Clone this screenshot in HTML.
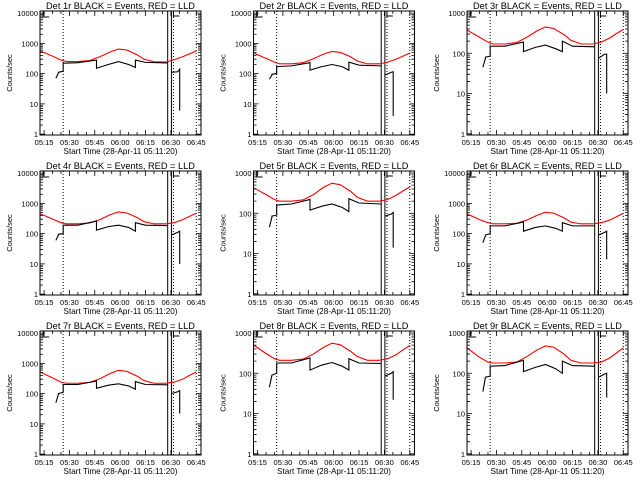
<!DOCTYPE html>
<html><head><meta charset="utf-8"><style>
html,body{margin:0;padding:0;background:#fff;}
svg{display:block;font-family:"Liberation Sans",sans-serif;}
</style></head><body>
<svg id="chart" width="640" height="480" viewBox="0 0 640 480" xmlns="http://www.w3.org/2000/svg">
<rect width="640" height="480" fill="#fff"/>
</svg>
<script>
const detNames = ["1r","2r","3r","4r","5r","6r","7r","8r","9r"];
const yMaxDecades = [4,4,3,4,3,4,4,3,3];
const redTimes = [12.6,15,20,25,28,35,42,48,54,59,64,70,74,80,87,92,97,101,105];
const red1 = [560,500,380,280,250,250,270,360,520,650,600,420,300,245,240,290,360,450,560];
const red2 = [480,420,320,240,210,210,230,310,440,540,500,360,260,210,210,240,300,380,480];
const red3 = [380,330,250,190,170,170,185,250,360,450,410,290,210,170,170,190,240,310,390];
const red4 = [450,400,300,230,210,210,225,290,420,520,480,340,250,210,210,230,290,370,470];
const red5 = [430,380,290,220,200,200,215,290,440,560,510,350,250,200,200,220,280,360,450];
const red6 = [450,390,290,230,210,210,220,280,400,510,470,330,240,210,210,230,280,360,470];
const red7 = [520,450,330,240,220,220,235,310,460,590,540,380,270,220,220,240,300,400,520];
const red8 = [500,430,310,230,210,210,225,300,440,560,510,350,260,210,210,230,290,380,490];
const red9 = [430,360,250,190,180,180,190,260,380,480,440,300,210,180,180,190,240,320,430];
const blackTimesA = [22,23.5,23.5,26.3,26.3,35,46,46,53,59,65,69,69,75,88];
const black1 = [70,105,110,120,220,230,280,150,200,250,200,160,280,235,225];
const black2 = [65,90,95,100,170,180,230,130,170,200,170,130,240,190,180];
const black3 = [45,75,80,85,150,150,190,110,140,160,130,110,200,150,145];
const black4 = [60,90,95,100,190,190,260,130,170,190,160,120,230,190,185];
const black5 = [45,80,85,90,160,170,220,120,150,170,140,110,230,180,170];
const black6 = [50,85,90,100,180,180,240,120,160,180,150,120,230,180,180];
const black7 = [50,95,100,110,200,200,260,150,190,210,180,140,250,200,195];
const black8 = [45,90,90,100,180,180,240,120,160,185,150,120,230,180,175];
const black9 = [35,80,80,85,150,155,210,110,140,165,130,100,200,155,150];
const blackTimesB = [90.3,94,95.2,95.2];
const blackB1 = [110,115,140,6];
const blackB2 = [90,110,115,4];
const blackB3 = [75,95,95,10];
const blackB4 = [90,110,120,10];
const blackB5 = [85,95,105,14];
const blackB6 = [90,110,120,14];
const blackB7 = [100,115,125,22];
const blackB8 = [85,100,110,22];
const blackB9 = [80,95,100,25];
const xTickLabels = ["05:15","05:30","05:45","06:00","06:15","06:30","06:45"];
const xTickTimes = [15,30,45,60,75,90,105];
const dottedTimes = [26.3,91.5,105];
const solidTimes = [88.1,90.3];
const reds=[red1,red2,red3,red4,red5,red6,red7,red8,red9];
const blacks=[black1,black2,black3,black4,black5,black6,black7,black8,black9];
const blacksB=[blackB1,blackB2,blackB3,blackB4,blackB5,blackB6,blackB7,blackB8,blackB9];

const svg=document.getElementById('chart');
const NS='http://www.w3.org/2000/svg';
function mk(tag,attrs,parent){const e=document.createElementNS(NS,tag);for(const k in attrs)e.setAttribute(k,attrs[k]);(parent||svg).appendChild(e);return e;}
const T0=12.6,T1=107.8;
for(let p=0;p<9;p++){
  const col=p%3,row=Math.floor(p/3);
  const L=[40,253.5,467][col], R=L+161, top=11+row*160, bot=135+row*160;
  const lmin=-0.03, lmax=yMaxDecades[p]+(yMaxDecades[p]===4?0.07:0.05);
  const xs=t=>L+(t-T0)/(T1-T0)*(R-L);
  const ys=v=>bot-(Math.log10(v)-lmin)/(lmax-lmin)*(bot-top);
  const g=mk('g',{});
  
  
  const ti=mk('text',{x:(L+R)/2,y:top-2,'font-size':9,'text-anchor':'middle',fill:'#000',textLength:149,lengthAdjust:'spacingAndGlyphs'},g);
  ti.textContent='Det '+detNames[p]+' BLACK = Events, RED = LLD';
  
  
  dottedTimes.forEach(t=>{const l=mk('line',{x1:xs(t),x2:xs(t),y1:top,y2:bot,stroke:'#000','stroke-width':1,'stroke-dasharray':'1,2'},g);
    
    });
  solidTimes.forEach(t=>{const l=mk('line',{x1:xs(t),x2:xs(t),y1:top,y2:bot,stroke:'#000','stroke-width':1},g);
    
    });
  const em=mk('path',{d:`M${xs(14.5)} ${top} V${top+6} H${xs(18)} M${xs(91.5)} ${top} V${top+6} M${xs(91.5)} ${top+5} H${xs(95)}`,fill:'none',stroke:'#000','stroke-width':1},g);
  
  
  const rp=mk('polyline',{points:redTimes.map((t,i)=>xs(t)+','+ys(reds[p][i])).join(' '),fill:'none',stroke:'#ff0000','stroke-width':1.1},g);
  
  
  const bp=mk('polyline',{points:blackTimesA.map((t,i)=>xs(t)+','+ys(blacks[p][i])).join(' '),fill:'none',stroke:'#000','stroke-width':1.1},g);
  
  
  const bp2=mk('polyline',{points:blackTimesB.map((t,i)=>xs(t)+','+ys(blacksB[p][i])).join(' '),fill:'none',stroke:'#000','stroke-width':1.1},g);
  
  
  const fr=mk('rect',{x:L,y:top,width:R-L,height:bot-top,fill:'none',stroke:'#000','stroke-width':1},g);
  
  
  let d='';
  for(let dec=0;dec<=yMaxDecades[p];dec++){
    for(let m=1;m<=9;m++){
      const v=m*Math.pow(10,dec); if(Math.log10(v)>lmax) break;
      const y=ys(v), len=m===1?5:3;
      d+=`M${L} ${y}H${L+len}M${R} ${y}H${R-len}`;
      if(m===1){const tl=mk('text',{x:L-2,y:y+3,'font-size':7.5,'text-anchor':'end',fill:'#000'},g);
        tl.textContent=String(Math.pow(10,dec));
        
        }
    }
  }
  for(let t=15;t<=T1;t+=5){const major=(t%15===0);const len=major?5:3;const x=xs(t);
    d+=`M${x} ${bot}V${bot-len}M${x} ${top}V${top+len}`;}
  const tk=mk('path',{d:d,stroke:'#000','stroke-width':0.8,fill:'none'},g);
  
  
  xTickTimes.forEach((t,i)=>{const tl=mk('text',{x:xs(t),y:bot+10,'font-size':7.5,'text-anchor':'middle',fill:'#000'},g);
    tl.textContent=xTickLabels[i];
    
    });
  const xt=mk('text',{x:(L+R)/2,y:bot+19,'font-size':8.5,'text-anchor':'middle',fill:'#000',textLength:114,lengthAdjust:'spacingAndGlyphs'},g);
  xt.textContent='Start Time (28-Apr-11 05:11:20)';
  
  
  const yc=(top+bot)/2, yx=L-28;
  const yt=mk('text',{x:yx,y:yc,'font-size':7.5,'text-anchor':'middle',fill:'#000',transform:`rotate(-90 ${yx} ${yc})`},g);
  yt.textContent='Counts/sec';
  
  
}
</script>
</body></html>
